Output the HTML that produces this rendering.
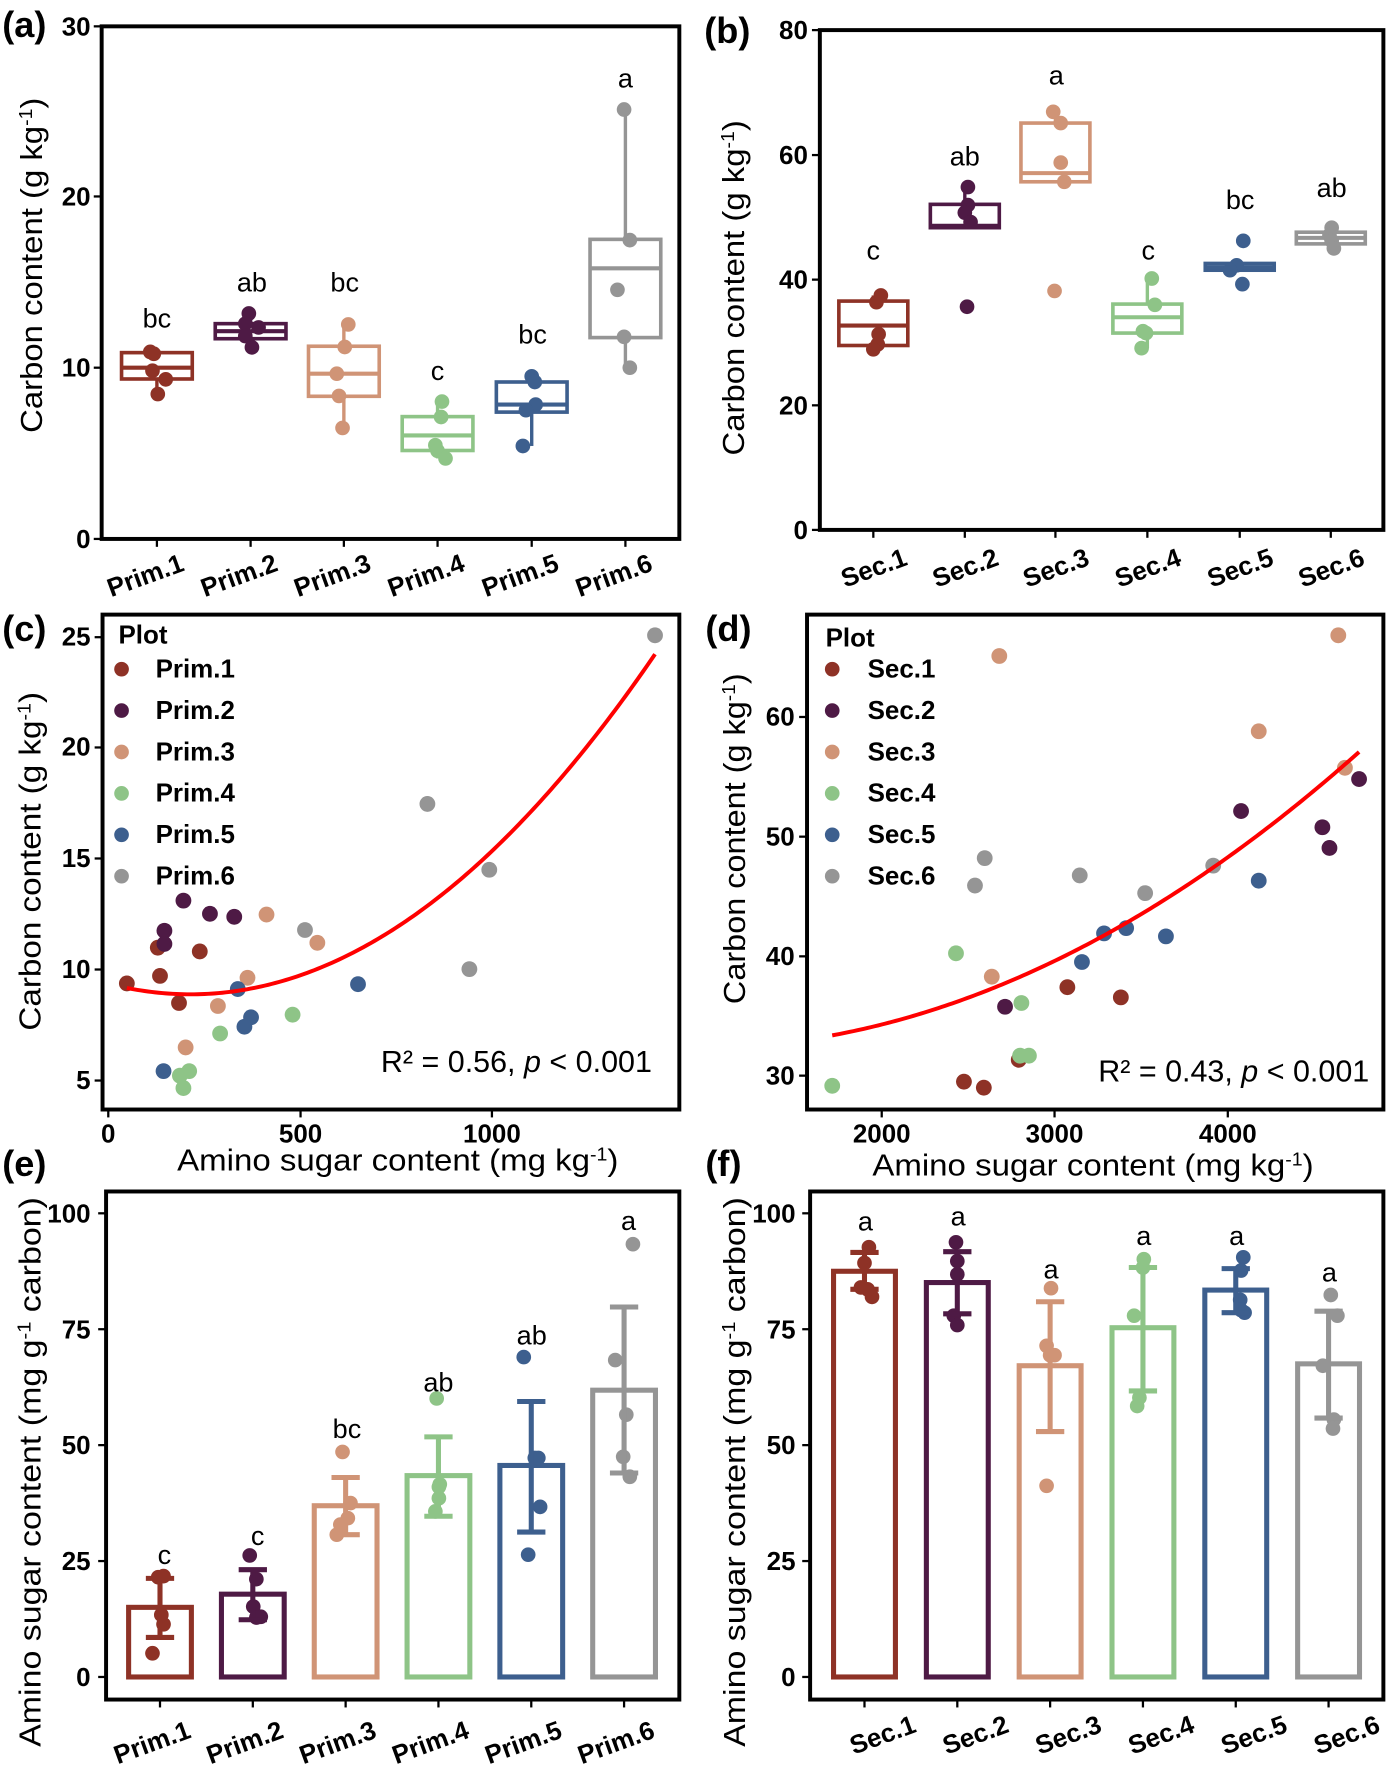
<!DOCTYPE html>
<html><head><meta charset="utf-8"><style>
html,body{margin:0;padding:0;background:#fff}
svg{display:block}
text{font-family:"Liberation Sans",Arial,sans-serif;fill:#000}
.tk{font-size:23px;font-weight:bold}
.xl{font-size:23px;font-weight:bold}
.lt{font-size:24px}
.ti{font-size:27px}
.pl{font-size:32px;font-weight:bold}
.lg{font-size:23px;font-weight:bold}
</style></head><body>
<svg id="root" width="1386" height="1770" viewBox="0 0 1228 1568" preserveAspectRatio="none" xmlns="http://www.w3.org/2000/svg">
<rect x="0" y="0" width="1228" height="1568" fill="#fff"/>
<g id="g"></g>
<text class="pl" x="2" y="33">(a)</text>
<text class="pl" x="624" y="38">(b)</text>
<text class="pl" x="2" y="568">(c)</text>
<text class="pl" x="625" y="568">(d)</text>
<text class="pl" x="2" y="1042">(e)</text>
<text class="pl" x="625" y="1042">(f)</text>

<g text-anchor="end" class="tk">
<text gp="a" gx="205" gy="94">30</text><text gp="a" gx="205" gy="546">20</text><text gp="a" gx="205" gy="1001">10</text><text gp="a" gx="205" gy="1456">0</text>
</g>
<text class="ti" text-anchor="middle" transform="translate(37,235) rotate(-90)" textLength="297" lengthAdjust="spacingAndGlyphs">Carbon content (g kg<tspan baseline-shift="super" font-size="16">-1</tspan>)</text>
<g text-anchor="end" class="xl">
<text gp="a" gx="420" gy="1515" rot="-20">Prim.1</text><text gp="a" gx="632" gy="1515" rot="-20">Prim.2</text><text gp="a" gx="843" gy="1515" rot="-20">Prim.3</text><text gp="a" gx="1055" gy="1515" rot="-20">Prim.4</text><text gp="a" gx="1268" gy="1515" rot="-20">Prim.5</text><text gp="a" gx="1480" gy="1515" rot="-20">Prim.6</text>
</g>
<g text-anchor="middle" class="lt">
<text gp="a" gx="355" gy="870">bc</text><text gp="a" gx="570" gy="775">ab</text><text gp="a" gx="780" gy="775">bc</text><text gp="a" gx="990" gy="1010">c</text><text gp="a" gx="1205" gy="913">bc</text><text gp="a" gx="1415" gy="233">a</text>
</g>

<g text-anchor="end" class="tk">
<text gp="b" gx="260" gy="104">80</text><text gp="b" gx="260" gy="436">60</text><text gp="b" gx="260" gy="767">40</text><text gp="b" gx="260" gy="1101">20</text><text gp="b" gx="260" gy="1432">0</text>
</g>
<text class="ti" text-anchor="middle" transform="translate(659,255) rotate(-90)" textLength="297" lengthAdjust="spacingAndGlyphs">Carbon content (g kg<tspan baseline-shift="super" font-size="16">-1</tspan>)</text>
<g text-anchor="end" class="xl">
<text gp="b" gx="488" gy="1500" rot="-20">Sec.1</text><text gp="b" gx="695" gy="1500" rot="-20">Sec.2</text><text gp="b" gx="900" gy="1500" rot="-20">Sec.3</text><text gp="b" gx="1108" gy="1500" rot="-20">Sec.4</text><text gp="b" gx="1317" gy="1500" rot="-20">Sec.5</text><text gp="b" gx="1523" gy="1500" rot="-20">Sec.6</text>
</g>
<g text-anchor="middle" class="lt">
<text gp="b" gx="408" gy="690">c</text><text gp="b" gx="615" gy="440">ab</text><text gp="b" gx="822" gy="225">a</text><text gp="b" gx="1030" gy="690">c</text><text gp="b" gx="1238" gy="555">bc</text><text gp="b" gx="1445" gy="523">ab</text>
</g>

<g text-anchor="end" class="tk">
<text gp="c" gx="205" gy="147">25</text><text gp="c" gx="205" gy="440">20</text><text gp="c" gx="205" gy="735">15</text><text gp="c" gx="205" gy="1030">10</text><text gp="c" gx="205" gy="1325">5</text>
</g>
<g text-anchor="middle" class="tk">
<text gp="c" gx="245" gy="1468">0</text><text gp="c" gx="680" gy="1468">500</text><text gp="c" gx="1113" gy="1468">1000</text>
</g>
<text class="ti" text-anchor="middle" gp="c" gx="900" gy="1542" textLength="391" lengthAdjust="spacingAndGlyphs">Amino sugar content (mg kg<tspan baseline-shift="super" font-size="16">-1</tspan>)</text>
<text class="ti" text-anchor="middle" transform="translate(36,763) rotate(-90)" textLength="300" lengthAdjust="spacingAndGlyphs">Carbon content (g kg<tspan baseline-shift="super" font-size="16">-1</tspan>)</text>
<text class="lg" gp="c" gx="268" gy="142">Plot</text>
<g class="lg">
<text gp="c" gx="352" gy="232">Prim.1</text><text gp="c" gx="352" gy="342">Prim.2</text><text gp="c" gx="352" gy="452">Prim.3</text><text gp="c" gx="352" gy="562">Prim.4</text><text gp="c" gx="352" gy="672">Prim.5</text><text gp="c" gx="352" gy="782">Prim.6</text>
</g>
<text class="ti" text-anchor="end" gp="c" gx="1475" gy="1280">R² = 0.56, <tspan font-style="italic">p</tspan> &lt; 0.001</text>

<g text-anchor="end" class="tk">
<text gp="d" gx="230" gy="360">60</text><text gp="d" gx="230" gy="678">50</text><text gp="d" gx="230" gy="996">40</text><text gp="d" gx="230" gy="1313">30</text>
</g>
<g text-anchor="middle" class="tk">
<text gp="d" gx="427" gy="1468">2000</text><text gp="d" gx="818" gy="1468">3000</text><text gp="d" gx="1210" gy="1468">4000</text>
</g>
<text class="ti" text-anchor="middle" gp="d" gx="905" gy="1555" textLength="391" lengthAdjust="spacingAndGlyphs">Amino sugar content (mg kg<tspan baseline-shift="super" font-size="16">-1</tspan>)</text>
<text class="ti" text-anchor="middle" transform="translate(660,743) rotate(-90)" textLength="293" lengthAdjust="spacingAndGlyphs">Carbon content (g kg<tspan baseline-shift="super" font-size="16">-1</tspan>)</text>
<text class="lg" gp="d" gx="300" gy="150">Plot</text>
<g class="lg">
<text gp="d" gx="395" gy="232">Sec.1</text><text gp="d" gx="395" gy="342">Sec.2</text><text gp="d" gx="395" gy="452">Sec.3</text><text gp="d" gx="395" gy="562">Sec.4</text><text gp="d" gx="395" gy="672">Sec.5</text><text gp="d" gx="395" gy="782">Sec.6</text>
</g>
<text class="ti" text-anchor="end" gp="d" gx="1530" gy="1305">R² = 0.43, <tspan font-style="italic">p</tspan> &lt; 0.001</text>

<g text-anchor="end" class="tk">
<text gp="e" gx="205" gy="112">100</text><text gp="e" gx="205" gy="420">75</text><text gp="e" gx="205" gy="728">50</text><text gp="e" gx="205" gy="1036">25</text><text gp="e" gx="205" gy="1344">0</text>
</g>
<text class="ti" text-anchor="middle" transform="translate(36,1304) rotate(-90)" textLength="487" lengthAdjust="spacingAndGlyphs">Amino sugar content (mg g<tspan baseline-shift="super" font-size="16">-1</tspan> carbon)</text>
<g text-anchor="end" class="xl">
<text gp="e" gx="435" gy="1480" rot="-20">Prim.1</text><text gp="e" gx="645" gy="1480" rot="-20">Prim.2</text><text gp="e" gx="855" gy="1480" rot="-20">Prim.3</text><text gp="e" gx="1065" gy="1480" rot="-20">Prim.4</text><text gp="e" gx="1275" gy="1480" rot="-20">Prim.5</text><text gp="e" gx="1485" gy="1480" rot="-20">Prim.6</text>
</g>
<g text-anchor="middle" class="lt">
<text gp="e" gx="372" gy="1020">c</text><text gp="e" gx="583" gy="970">c</text><text gp="e" gx="785" gy="685">bc</text><text gp="e" gx="992" gy="562">ab</text><text gp="e" gx="1203" gy="437">ab</text><text gp="e" gx="1422" gy="132">a</text>
</g>

<g text-anchor="end" class="tk">
<text gp="f" gx="232" gy="112">100</text><text gp="f" gx="232" gy="420">75</text><text gp="f" gx="232" gy="728">50</text><text gp="f" gx="232" gy="1036">25</text><text gp="f" gx="232" gy="1344">0</text>
</g>
<text class="ti" text-anchor="middle" transform="translate(660,1304) rotate(-90)" textLength="487" lengthAdjust="spacingAndGlyphs">Amino sugar content (mg g<tspan baseline-shift="super" font-size="16">-1</tspan> carbon)</text>
<g text-anchor="end" class="xl">
<text gp="f" gx="508" gy="1465" rot="-20">Sec.1</text><text gp="f" gx="718" gy="1465" rot="-20">Sec.2</text><text gp="f" gx="928" gy="1465" rot="-20">Sec.3</text><text gp="f" gx="1138" gy="1465" rot="-20">Sec.4</text><text gp="f" gx="1348" gy="1465" rot="-20">Sec.5</text><text gp="f" gx="1558" gy="1465" rot="-20">Sec.6</text>
</g>
<g text-anchor="middle" class="lt">
<text gp="f" gx="390" gy="134">a</text><text gp="f" gx="600" gy="121">a</text><text gp="f" gx="810" gy="261">a</text><text gp="f" gx="1020" gy="172">a</text><text gp="f" gx="1230" gy="172">a</text><text gp="f" gx="1440" gy="269">a</text>
</g>
</svg>
<script>
(function(){
const S=0.3916,T=0.3334;
const OFF={a:[0,0],b:[614,0],c:[0,522.8],d:[614,522.8],e:[0,1045.5],f:[614,1045.5]};
const NS='http://www.w3.org/2000/svg';
const g=document.getElementById('g');
const X=(p,x)=>OFF[p][0]+x*S, Y=(p,y)=>OFF[p][1]+y*T;
function el(tag,a){const e=document.createElementNS(NS,tag);for(const k in a)e.setAttribute(k,a[k]);g.appendChild(e);return e;}
function line(p,x1,y1,x2,y2,c,w){el('line',{x1:X(p,x1),y1:Y(p,y1),x2:X(p,x2),y2:Y(p,y2),stroke:c,'stroke-width':w});}
function rect(p,x1,y1,x2,y2,c,w){el('rect',{x:X(p,x1),y:Y(p,y1),width:(x2-x1)*S,height:(y2-y1)*T,fill:'none',stroke:c,'stroke-width':w});}
function dot(p,x,y,c,r){el('circle',{cx:X(p,x),cy:Y(p,y),r:r||6.5,fill:c});}
const C=['#8e3226','#4e1a45','#d09476','#8ec487','#3d5f8e','#959595'];
function frame(p,l,t,r,b,yt,xt){
  yt.forEach(v=>el('line',{x1:X(p,l)-7,y1:Y(p,v),x2:X(p,l),y2:Y(p,v),stroke:'#000','stroke-width':2}));
  xt.forEach(v=>el('line',{x1:X(p,v),y1:Y(p,b),x2:X(p,v),y2:Y(p,b)+7,stroke:'#000','stroke-width':2}));
  rect(p,l,t,r,b,'#000',3.5);
}
frame('a',230,70,1537,1432,[70,522,977,1432],[355,567,778,990,1203,1415]);
const A=[[355,937,1007,977,[[340,935],[348,940],[345,985],[375,1008],[357,1047]]],
[567,860,900,880,[[563,833],[555,860],[585,870],[555,893],[570,923]]],
[778,920,1053,993,[[788,862],[780,922],[762,993],[767,1052],[775,1137]]],
[990,1107,1197,1157,[[1000,1067],[998,1108],[985,1183],[990,1198],[1008,1218]]],
[1203,1015,1095,1075,[[1203,1000],[1210,1015],[1212,1075],[1190,1090],[1183,1185]]],
[1415,636,897,713,[[1412,291],[1425,638],[1397,770],[1412,895],[1425,977]]]];
function boxes(p,D,hw,out){
  D.forEach((d,i)=>{const [cx,q1,q3,md,ds]=d;const c=C[i];
    const ys=ds.map(z=>z[1]);const hi=Math.min(...ys),lo=Math.max(...ys);
    if(hi<q1)line(p,cx,hi,cx,q1,c,3);
    if(lo>q3)line(p,cx,q3,cx,lo,c,3);
    el('rect',{x:X(p,cx-hw),y:Y(p,q1),width:2*hw*S,height:(q3-q1)*T,fill:'#fff',stroke:c,'stroke-width':3.2});
    line(p,cx-hw,md,cx+hw,md,c,3.6);
    ds.forEach(z=>dot(p,z[0],z[1],c));
    (out&&out[i]||[]).forEach(z=>dot(p,z[0],z[1],c));
  });
}
boxes('a',A,80);
frame('b',287,80,1562,1408,[80,412,743,1077,1408],[408,615,820,1028,1237,1443]);
const B=[[408,800,918,865,[[425,785],[415,803],[420,888],[418,915],[408,928]]],
[615,543,605,600,[[622,497],[622,545],[615,565],[628,590]]],
[820,327,483,460,[[815,297],[832,327],[832,432],[840,483]]],
[1028,808,885,843,[[1038,740],[1045,810],[1018,880],[1025,885],[1015,925]]],
[1237,700,718,710,[[1230,705],[1215,718]]],
[1443,617,648,632,[[1445,605],[1440,625],[1445,640],[1450,660]]]];
boxes('b',B,78,[[],[[620,815]],[[818,773]],[],[[1245,640],[1243,755]],[]]);
frame('c',232,65,1537,1380,[125,418,713,1008,1303],[245,680,1113]);
const CP=[[[287,1045],[357,950],[362,1025],[452,960],[405,1097]],
[[415,825],[372,905],[372,940],[475,860],[530,868]],
[[603,862],[718,937],[560,1030],[493,1105],[420,1215]],
[[662,1128],[498,1178],[428,1278],[407,1290],[415,1323]],
[[810,1047],[538,1060],[568,1135],[553,1160],[370,1278]],
[[1482,120],[967,568],[1107,743],[690,903],[1062,1007]]];
function curve(p,x0,x1,f){let pts=[];for(let x=x0;x<=x1;x+=8)pts.push(X(p,x)+','+Y(p,f(x)));pts.push(X(p,x1)+','+Y(p,f(x1)));
  el('polyline',{points:pts.join(' '),fill:'none',stroke:'#f00','stroke-width':3.5});}
CP.forEach((s,i)=>s.forEach(z=>dot('c',z[0],z[1],C[i],7)));
curve('c',287,1482,x=>1057-0.4354*(x-287)-0.000818*(x-287)*(x-1107));
[210,320,430,540,650,760].forEach((y,i)=>dot('c',275,y,C[i],6.5));
frame('d',258,65,1562,1380,[337,655,973,1290],[427,818,1210]);
const DP=[[[613,1306],[658,1322],[737,1248],[847,1055],[968,1082]],
[[706,1107],[1240,587],[1424,630],[1440,685],[1507,502]],
[[693,175],[1460,120],[1280,375],[1475,472],[676,1027]],
[[315,1317],[595,965],[743,1097],[740,1237],[760,1237]],
[[880,988],[930,912],[980,898],[1070,920],[1280,772]],
[[660,712],[638,785],[875,758],[1023,805],[1177,732]]];
DP.forEach((s,i)=>s.forEach(z=>dot('d',z[0],z[1],C[i],7)));
curve('d',315,1507,x=>1183-0.5174*(x-315)-0.0003464*(x-315)*(x-1177));
[210,320,430,540,650,760].forEach((y,i)=>dot('d',315,y,C[i],6.5));
function bars(p,D,hw){
  D.forEach((d,i)=>{const [cx,top,et,eb,ds]=d;const c=C[i];
    el('rect',{x:X(p,cx-hw),y:Y(p,top),width:2*hw*S,height:(1320-top)*T,fill:'none',stroke:c,'stroke-width':4.5});
    ds.forEach(z=>dot(p,z[0],z[1],c));
    line(p,cx,et,cx,eb,c,4.5);line(p,cx-32,et,cx+32,et,c,4.5);line(p,cx-32,eb,cx+32,eb,c,4.5);
  });
}
frame('e',240,30,1537,1380,[88,396,704,1012,1320],[362,572,782,992,1202,1412]);
bars('e',[[362,1135,1058,1215,[[345,1257],[370,1180],[365,1155],[358,1055],[370,1052]]],
[572,1100,1035,1168,[[565,997],[580,1060],[573,1133],[590,1160],[580,1162]]],
[782,865,790,942,[[775,722],[793,858],[787,898],[770,915],[762,942]]],
[992,785,682,893,[[988,580],[995,808],[993,845],[985,880],[993,815]]],
[1202,758,588,935,[[1185,470],[1210,738],[1218,738],[1222,868],[1195,995]]],
[1412,558,337,778,[[1432,170],[1392,478],[1417,623],[1410,735],[1425,788]]]],71);
frame('f',265,30,1562,1380,[88,396,704,1012,1320],[388,598,808,1018,1228,1438]);
bars('f',[[388,242,192,290,[[398,178],[388,220],[380,285],[405,310],[395,290]]],
[598,272,190,355,[[595,165],[598,215],[598,250],[590,360],[598,385]]],
[808,493,323,668,[[810,287],[808,465],[800,440],[818,465],[800,812]]],
[1018,392,232,560,[[1020,210],[1018,232],[998,360],[1010,578],[1005,600]]],
[1228,292,235,352,[[1245,205],[1240,240],[1238,318],[1248,352],[1240,345]]],
[1438,488,348,632,[[1443,305],[1458,360],[1425,493],[1450,636],[1448,660]]]],70);
document.querySelectorAll('text[gp]').forEach(t=>{const p=t.getAttribute('gp');
  const x=X(p,+t.getAttribute('gx')),y=Y(p,+t.getAttribute('gy'));
  t.setAttribute('x',x);t.setAttribute('y',y);
  const r=t.getAttribute('rot');if(r)t.setAttribute('transform','rotate('+r+' '+x+' '+y+')');});
})();
</script>
</body></html>
